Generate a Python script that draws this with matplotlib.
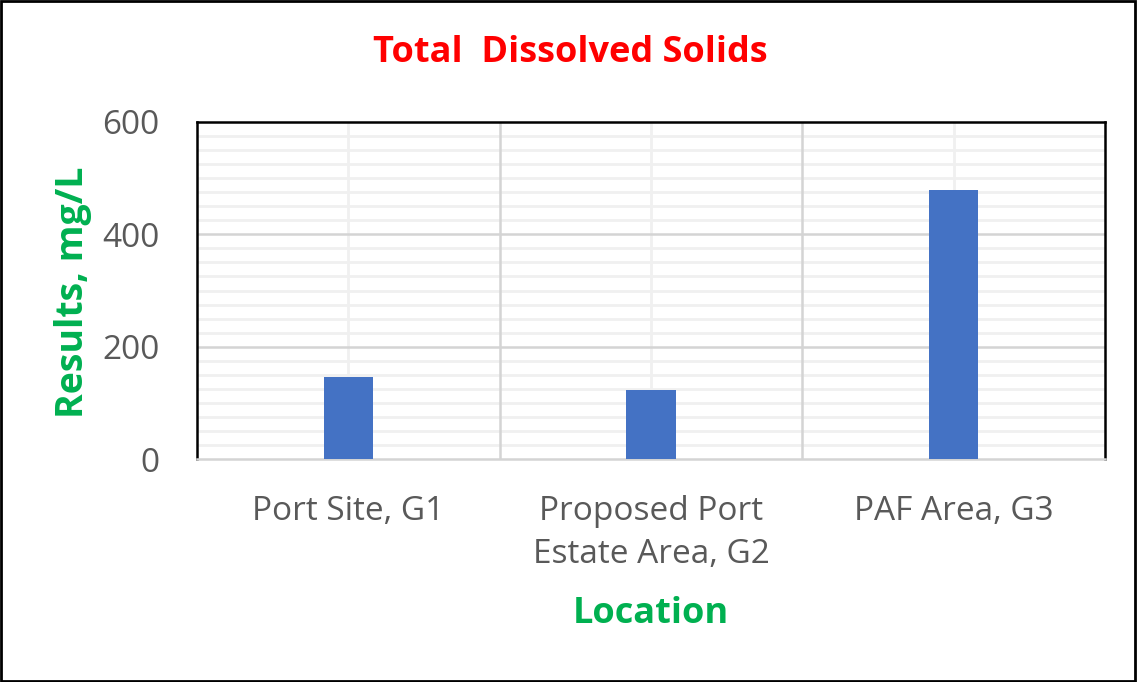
import matplotlib
matplotlib.use("Agg")
import matplotlib.pyplot as plt
from matplotlib.patches import Rectangle
import numpy as np

categories = ["Port Site, G1", "Proposed Port\nEstate Area, G2", "PAF Area, G3"]
values = [146, 122, 479]
yticks = [0, 200, 400, 600]
title = "Total  Dissolved Solids"
xlabel = "Location"
ylabel = "Results, mg/L"

plt.rcParams['font.family'] = ['Open Sans', 'DejaVu Sans']

fig = plt.figure(figsize=(11.37, 6.82), dpi=100)
ax = fig.add_axes([197/1137, 1-459/682, (1105-197)/1137, (459-122)/682])

x = np.arange(len(categories))
ax.bar(x, values, width=0.163, color="#4472C4", zorder=3)

ax.set_xlim(-0.5, len(categories)-0.5)
ax.set_ylim(0, 600)
ax.set_yticks(yticks)
ax.set_xticks(x, categories)

# gridlines
ax.grid(False)
for yv in np.arange(25, 600, 25):
    if yv % 200 == 0:
        continue
    ax.axhline(yv, color="#F0F0F0", lw=2.0, zorder=1)
for yv in yticks[1:-1]:
    ax.axhline(yv, color="#D4D4D4", lw=1.8, zorder=2)
for xv in x:
    ax.axvline(xv, color="#F0F0F0", lw=2.0, zorder=1)
for xv in np.arange(0.5, len(categories)-0.5, 1.0):
    ax.axvline(xv, color="#D4D4D4", lw=1.8, zorder=2)

for s in ["top", "left", "right"]:
    ax.spines[s].set_color("black")
    ax.spines[s].set_linewidth(1.8)
ax.spines["bottom"].set_color("#D4D4D4")
ax.spines["bottom"].set_linewidth(1.8)

ax.tick_params(axis="both", which="both", length=0)
ax.tick_params(axis="y", labelsize=24, labelcolor="#595959", pad=27)
ax.tick_params(axis="x", labelsize=24, labelcolor="#595959", pad=26)
for lab in ax.get_xticklabels():
    lab.set_linespacing(1.38)

fig.text(570/1137, 1-53/682, title, color="#FF0000", fontsize=26, fontweight="bold",
         ha="center", va="center")
fig.text(651/1137, 1-614/682, xlabel, color="#00B050", fontsize=26, fontweight="bold",
         ha="center", va="center")
fig.text(73/1137, 1-292/682, ylabel, color="#00B050", fontsize=27, fontweight="bold",
         ha="center", va="center", rotation=90)

fig.patches.append(Rectangle((0.001, 0.002), 0.997, 0.996, transform=fig.transFigure,
                             fill=False, edgecolor="black", lw=2))

fig.savefig("out.png", dpi=100)
